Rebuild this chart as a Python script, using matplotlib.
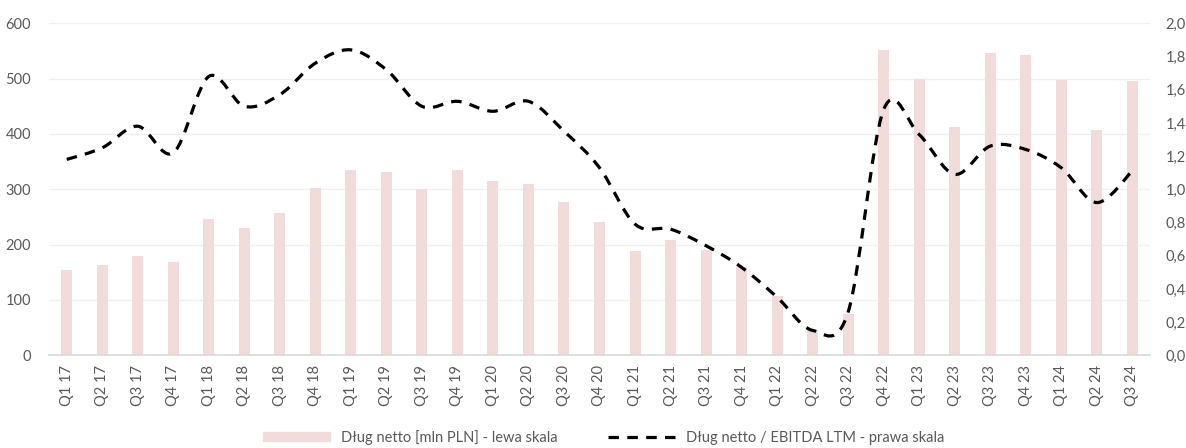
import matplotlib
matplotlib.use("Agg")
import matplotlib.pyplot as plt
import numpy as np
from matplotlib.path import Path
from matplotlib.patches import PathPatch
from matplotlib.lines import Line2D
from matplotlib.ticker import FuncFormatter

plt.rcParams['font.family'] = ['Lato', 'DejaVu Sans']

quarters = ["Q1 17", "Q2 17", "Q3 17", "Q4 17", "Q1 18", "Q2 18", "Q3 18", "Q4 18",
            "Q1 19", "Q2 19", "Q3 19", "Q4 19", "Q1 20", "Q2 20", "Q3 20", "Q4 20",
            "Q1 21", "Q2 21", "Q3 21", "Q4 21", "Q1 22", "Q2 22", "Q3 22", "Q4 22",
            "Q1 23", "Q2 23", "Q3 23", "Q4 23", "Q1 24", "Q2 24", "Q3 24"]
net_debt = [155, 164, 180, 169, 246, 230, 257, 302, 334, 331, 300, 334, 315, 310, 277, 240,
            189, 208, 190, 160, 107, 45, 74, 551, 499, 413, 547, 542, 497, 407, 495]
ratio = [1.18, 1.25, 1.38, 1.22, 1.68, 1.50, 1.57, 1.76, 1.84, 1.72, 1.50, 1.53, 1.47, 1.53,
         1.35, 1.13, 0.79, 0.76, 0.66, 0.53, 0.35, 0.15, 0.26, 1.48, 1.33, 1.09, 1.26, 1.24,
         1.13, 0.92, 1.11]

bar_label = "Dług netto [mln PLN] - lewa skala"
line_label = "Dług netto / EBITDA LTM - prawa skala"

W, H = 1186, 448
fig = plt.figure(figsize=(W / 100, H / 100), dpi=100)
ax = fig.add_axes([49 / W, 1 - 355.3 / H, (1150 - 49) / W, (355.3 - 23.3) / H])
ax2 = ax.twinx()

x = np.arange(len(quarters))
bar_color = "#F2DCDB"
ax.bar(x, net_debt, width=0.31, color=bar_color, zorder=2)
ax.set_xlim(-0.5, len(quarters) - 0.5)
ax.set_ylim(0, 600)
ax.set_yticks(np.arange(0, 601, 100))
ax.grid(axis='y', color="#F0F0F0", linewidth=1, zorder=0)
ax.set_axisbelow(True)
ax.set_xticks(x)
ax.set_xticklabels(quarters, rotation=90)

ax2.set_ylim(0, 2.0)
ax2.set_yticks(np.arange(0, 2.01, 0.2))
ax2.yaxis.set_major_formatter(FuncFormatter(lambda v, p: f"{v:.1f}".replace('.', ',')))

for a in (ax, ax2):
    for s in a.spines.values():
        s.set_visible(False)
    a.tick_params(length=0, colors="#595959", labelsize=10.5)
ax.spines['bottom'].set_visible(True)
ax.spines['bottom'].set_color("#D9D9D9")
ax.spines['bottom'].set_linewidth(1.2)
ax.tick_params(axis='y', pad=13)
ax.tick_params(axis='x', pad=7)
ax2.tick_params(axis='y', pad=11)

# smoothed line (Excel-style Bezier through the data points)
pts = np.column_stack([x, ratio]).astype(float)
n = len(pts)
verts = [tuple(pts[0])]
codes = [Path.MOVETO]
for i in range(n - 1):
    p0 = pts[i - 1] if i > 0 else pts[i]
    p1 = pts[i]
    p2 = pts[i + 1]
    p3 = pts[i + 2] if i + 2 < n else pts[i + 1]
    c1 = p1 + (p2 - p0) / 6
    c2 = p2 - (p3 - p1) / 6
    verts += [tuple(c1), tuple(c2), tuple(p2)]
    codes += [Path.CURVE4] * 3
path = Path(verts, codes)
patch = PathPatch(path, fill=False, edgecolor="black", linewidth=2.3,
                  linestyle=(0, (3.3, 2.6)), capstyle='butt', zorder=3)
ax2.add_patch(patch)

handles = [plt.Rectangle((0, 0), 1, 1, color=bar_color),
           Line2D([0], [0], color="black", linewidth=2.3, linestyle=(0, (3.3, 2.6)))]
leg = fig.legend(handles, [bar_label, line_label], loc='lower center', ncol=2,
                 bbox_to_anchor=(0.509, -0.022), frameon=False, handlelength=4.6,
                 handleheight=0.6, columnspacing=3.4, fontsize=10.5)
for t in leg.get_texts():
    t.set_color("#595959")

fig.savefig("out.png", dpi=100)
